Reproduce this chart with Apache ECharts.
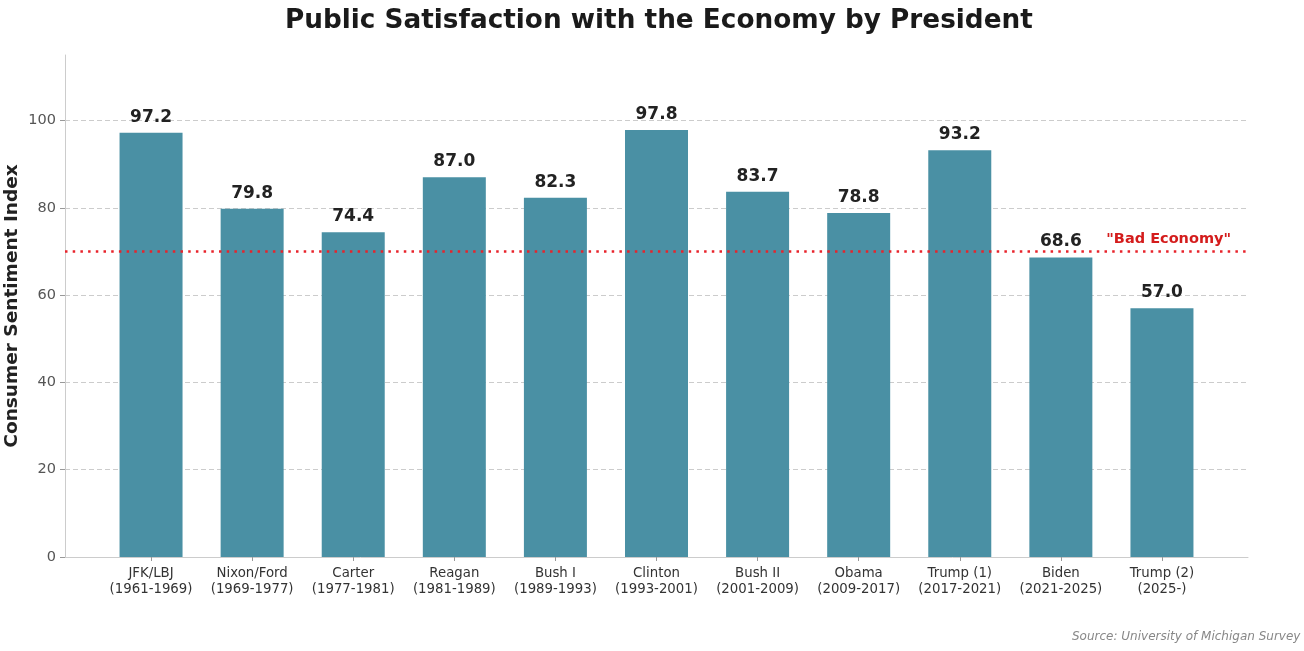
<!DOCTYPE html>
<html>
<head>
<meta charset="utf-8">
<script src="https://cdn.jsdelivr.net/npm/echarts@6/dist/echarts.min.js"></script>
<style>html,body{margin:0;padding:0;background:#fff}#c{width:1304px;height:651px}</style>
</head>
<body>
<div id="c"></div>
<script>
var categories = ['JFK/LBJ\n(1961-1969)','Nixon/Ford\n(1969-1977)','Carter\n(1977-1981)','Reagan\n(1981-1989)','Bush I\n(1989-1993)','Clinton\n(1993-2001)','Bush II\n(2001-2009)','Obama\n(2009-2017)','Trump (1)\n(2017-2021)','Biden\n(2021-2025)','Trump (2)\n(2025-)'];
var sentiment = [97.2, 79.8, 74.4, 87.0, 82.3, 97.8, 83.7, 78.8, 93.2, 68.6, 57.0];
var badEconomy = 70;
var yTicks = [0, 20, 40, 60, 80, 100];

var font = 'DejaVu Sans';
var chart = echarts.init(document.getElementById('c'));
chart.setOption({
  backgroundColor: '#fff',
  animation: false,
  title: {
    text: 'Public Satisfaction with the Economy by President',
    left: 280, top: 3,
    textStyle: {fontFamily: font, fontSize: 26.3, fontWeight: 'bold', color: '#1a1a1a'}
  },
  grid: [
    {left: 65, right: 56, top: 55, bottom: 94, containLabel: false, outerBoundsMode: 'none'},
    {left: 100.5, right: 91.5, top: 55, bottom: 94, containLabel: false, outerBoundsMode: 'none'}
  ],
  xAxis: [
    {type: 'value', gridIndex: 0, min: 0, max: 1, show: true,
     axisLine: {show: true, onZero: false, lineStyle: {color: '#cccccc', width: 1}},
     axisTick: {show: false}, axisLabel: {show: false}, splitLine: {show: false}},
    {type: 'category', gridIndex: 1, data: categories,
     axisLine: {show: false},
     axisTick: {show: true, alignWithLabel: true, length: 4, lineStyle: {color: '#999'}},
     axisLabel: {fontFamily: font, fontSize: 13.3, color: '#333', lineHeight: 15.5, margin: 9, interval: 0}}
  ],
  yAxis: [
    {type: 'value', gridIndex: 0, min: 0, max: 115, interval: 20,
     name: 'Consumer Sentiment Index', nameLocation: 'middle', nameGap: 43, nameMoveOverlap: false,
     nameTextStyle: {fontFamily: font, fontSize: 18.5, fontWeight: 'bold', color: '#222'},
     axisLine: {show: true, onZero: false, lineStyle: {color: '#cccccc'}},
     axisTick: {show: true, length: 5, customValues: yTicks, lineStyle: {color: '#999'}},
     axisLabel: {fontFamily: font, fontSize: 14.5, color: '#555', margin: 9, customValues: yTicks},
     splitLine: {show: true, showMinLine: false, showMaxLine: true, lineStyle: {color: '#cccccc', type: [5, 3], width: 1}}},
    {type: 'value', gridIndex: 1, min: 0, max: 115, interval: 20, show: false}
  ],
  series: [
    {type: 'bar', xAxisIndex: 1, yAxisIndex: 1, data: sentiment, barWidth: 63,
     itemStyle: {color: '#4a90a4'},
     label: {show: true, position: 'top', distance: 7, fontFamily: font, fontSize: 17,
       fontWeight: 'bold', color: '#222', formatter: function (p) { return p.value.toFixed(1); }}},
    {type: 'scatter', xAxisIndex: 0, yAxisIndex: 0, data: [], silent: true,
     markLine: {symbol: 'none', silent: true,
       lineStyle: {color: '#e8232b', type: [2.5, 5.2], width: 2.5},
       label: {show: true, position: 'insideEndTop', formatter: '"Bad Economy"',
         fontFamily: font, fontSize: 14.5, fontWeight: 'bold', color: '#d41c1c', distance: [17, 5]},
       data: [{yAxis: badEconomy}]}}
  ],
  graphic: [
    {type: 'text', left: 1072, top: 631,
     style: {text: 'Source: University of Michigan Survey of Consumers', fontFamily: font,
       fontSize: 12, fontStyle: 'italic', fill: '#888'}}
  ]
});
</script>
</body>
</html>
